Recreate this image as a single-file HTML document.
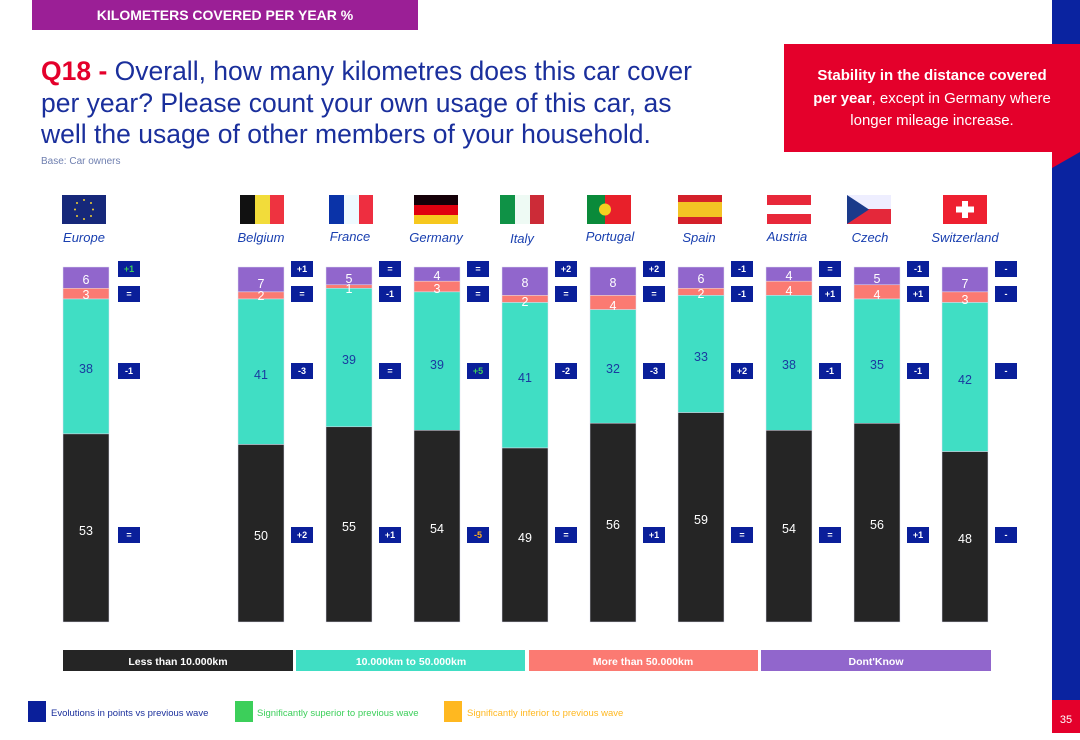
<!DOCTYPE html>
<html><head><meta charset="utf-8"><style>
body{margin:0;width:1080px;height:733px;position:relative;background:#fff;font-family:"Liberation Sans",sans-serif;overflow:hidden}
.a{position:absolute}
</style></head><body>
<div class="a" style="left:32px;top:0;width:386px;height:30px;background:#9b1f96;color:#fff;font-weight:bold;font-size:14px;line-height:30px;text-align:center">KILOMETERS COVERED PER YEAR %</div>
<div class="a" style="left:41px;top:56px;width:740px;font-size:26.5px;line-height:31.5px;color:#1a2f9c;white-space:nowrap"><b style="color:#e4002b">Q18 -</b> Overall, how many kilometres does this car cover<br>per year? Please count your own usage of this car, as<br>well the usage of other members of your household.</div>
<div class="a" style="left:41px;top:156px;font-size:10px;color:#7080b0">Base: Car owners</div>
<div class="a" style="left:1052px;top:0;width:28px;height:700px;background:#0a23a0"></div>
<div class="a" style="left:1052px;top:700px;width:28px;height:33px;background:#e4002b;color:#fff;font-size:11px;text-align:center;line-height:40px">35</div>
<div class="a" style="left:784px;top:44px;width:296px;height:108px;background:#e4002b"></div>
<div class="a" style="left:784px;top:65px;width:296px;text-align:center;color:#fff;font-size:15px;line-height:22.5px"><b>Stability in the distance covered<br>per year</b>, except in Germany where<br>longer mileage increase.</div>
<svg class="a" style="left:0;top:0" width="1080" height="733" font-family="Liberation Sans, sans-serif">
<polygon points="1080,152 1052,168 1052,152" fill="#e4002b"/>
<!-- flags -->
<rect x="62" y="195" width="44" height="29" fill="#16287a"/>
<g fill="#f2d030"><circle cx="84" cy="200" r="1"/><circle cx="84" cy="219" r="1"/><circle cx="75" cy="209.5" r="1"/><circle cx="93" cy="209.5" r="1"/><circle cx="77" cy="203" r="1"/><circle cx="91" cy="203" r="1"/><circle cx="77" cy="216" r="1"/><circle cx="91" cy="216" r="1"/></g>
<rect x="240" y="195" width="15" height="29" fill="#111"/><rect x="255" y="195" width="15" height="29" fill="#f2dc3a"/><rect x="270" y="195" width="14" height="29" fill="#ee3340"/>
<rect x="329" y="195" width="15" height="29" fill="#0a33a8"/><rect x="344" y="195" width="15" height="29" fill="#eefaff"/><rect x="359" y="195" width="14" height="29" fill="#ee2e40"/>
<rect x="414" y="195" width="44" height="10" fill="#150008"/><rect x="414" y="205" width="44" height="10" fill="#e0000f"/><rect x="414" y="215" width="44" height="9" fill="#f6c81e"/>
<rect x="500" y="195" width="15" height="29" fill="#0f9246"/><rect x="515" y="195" width="15" height="29" fill="#eefaf4"/><rect x="530" y="195" width="14" height="29" fill="#cc2b37"/>
<rect x="587" y="195" width="18" height="29" fill="#0a8a3a"/><rect x="605" y="195" width="26" height="29" fill="#e8202a"/><circle cx="605" cy="209.5" r="6" fill="#f5d020"/>
<rect x="678" y="195" width="44" height="29" fill="#d4202a"/><rect x="678" y="202" width="44" height="15" fill="#f3c324"/>
<rect x="767" y="195" width="44" height="10" fill="#e8283a"/><rect x="767" y="205" width="44" height="9" fill="#fff"/><rect x="767" y="214" width="44" height="10" fill="#e8283a"/>
<rect x="847" y="195" width="44" height="15" fill="#eef"/><rect x="847" y="209" width="44" height="15" fill="#e4283a"/><polygon points="847,195 869,209.5 847,224" fill="#1a3a8a"/>
<rect x="943" y="195" width="44" height="29" fill="#ee2030"/><rect x="962" y="201" width="6" height="17" fill="#fff"/><rect x="956" y="206.5" width="18" height="6" fill="#fff"/>
<g font-style="italic" font-size="13" fill="#1a40b0" text-anchor="middle">
<text x="84" y="242">Europe</text><text x="261" y="242">Belgium</text><text x="350" y="241">France</text><text x="436" y="242">Germany</text><text x="522" y="243">Italy</text><text x="610" y="241">Portugal</text><text x="699" y="242">Spain</text><text x="787" y="241">Austria</text><text x="870" y="242">Czech</text><text x="965" y="242">Switzerland</text>
</g>
<!-- bars -->
<g stroke="#e0e0f0" stroke-width="0.5">
<rect x="63" y="267" width="46" height="21.3" fill="#9166cc"/><rect x="63" y="288.3" width="46" height="10.7" fill="#fb7a72"/><rect x="63" y="299" width="46" height="134.9" fill="#40dec4"/><rect x="63" y="433.9" width="46" height="188.1" fill="#252525"/>
<rect x="238" y="267" width="46" height="24.9" fill="#9166cc"/><rect x="238" y="291.9" width="46" height="7.1" fill="#fb7a72"/><rect x="238" y="299" width="46" height="145.5" fill="#40dec4"/><rect x="238" y="444.5" width="46" height="177.5" fill="#252525"/>
<rect x="326" y="267" width="46" height="17.8" fill="#9166cc"/><rect x="326" y="284.8" width="46" height="3.5" fill="#fb7a72"/><rect x="326" y="288.3" width="46" height="138.5" fill="#40dec4"/><rect x="326" y="426.8" width="46" height="195.2" fill="#252525"/>
<rect x="414" y="267" width="46" height="14.2" fill="#9166cc"/><rect x="414" y="281.2" width="46" height="10.7" fill="#fb7a72"/><rect x="414" y="291.9" width="46" height="138.4" fill="#40dec4"/><rect x="414" y="430.3" width="46" height="191.7" fill="#252525"/>
<rect x="502" y="267" width="46" height="28.4" fill="#9166cc"/><rect x="502" y="295.4" width="46" height="7.1" fill="#fb7a72"/><rect x="502" y="302.5" width="46" height="145.5" fill="#40dec4"/><rect x="502" y="448" width="46" height="174" fill="#252525"/>
<rect x="590" y="267" width="46" height="28.4" fill="#9166cc"/><rect x="590" y="295.4" width="46" height="14.2" fill="#fb7a72"/><rect x="590" y="309.6" width="46" height="113.6" fill="#40dec4"/><rect x="590" y="423.2" width="46" height="198.8" fill="#252525"/>
<rect x="678" y="267" width="46" height="21.3" fill="#9166cc"/><rect x="678" y="288.3" width="46" height="7.1" fill="#fb7a72"/><rect x="678" y="295.4" width="46" height="117.2" fill="#40dec4"/><rect x="678" y="412.6" width="46" height="209.4" fill="#252525"/>
<rect x="766" y="267" width="46" height="14.2" fill="#9166cc"/><rect x="766" y="281.2" width="46" height="14.2" fill="#fb7a72"/><rect x="766" y="295.4" width="46" height="134.9" fill="#40dec4"/><rect x="766" y="430.3" width="46" height="191.7" fill="#252525"/>
<rect x="854" y="267" width="46" height="17.8" fill="#9166cc"/><rect x="854" y="284.8" width="46" height="14.2" fill="#fb7a72"/><rect x="854" y="299" width="46" height="124.3" fill="#40dec4"/><rect x="854" y="423.3" width="46" height="198.7" fill="#252525"/>
<rect x="942" y="267" width="46" height="24.9" fill="#9166cc"/><rect x="942" y="291.9" width="46" height="10.6" fill="#fb7a72"/><rect x="942" y="302.5" width="46" height="149.1" fill="#40dec4"/><rect x="942" y="451.6" width="46" height="170.4" fill="#252525"/>
</g>
<g font-size="12.5" text-anchor="middle" fill="#fff">
<text x="86" y="284">6</text><text x="86" y="299">3</text>
<text x="261" y="288">7</text><text x="261" y="300">2</text>
<text x="349" y="283">5</text><text x="349" y="293">1</text>
<text x="437" y="280">4</text><text x="437" y="293">3</text>
<text x="525" y="287">8</text><text x="525" y="306">2</text>
<text x="613" y="287">8</text><text x="613" y="310">4</text>
<text x="701" y="283">6</text><text x="701" y="298">2</text>
<text x="789" y="280">4</text><text x="789" y="295">4</text>
<text x="877" y="283">5</text><text x="877" y="299">4</text>
<text x="965" y="288">7</text><text x="965" y="304">3</text>
<text x="86" y="535">53</text><text x="261" y="540">50</text><text x="349" y="531">55</text><text x="437" y="533">54</text><text x="525" y="542">49</text><text x="613" y="529">56</text><text x="701" y="524">59</text><text x="789" y="533">54</text><text x="877" y="529">56</text><text x="965" y="543">48</text>
</g>
<g font-size="12.5" text-anchor="middle" fill="#1a3aa0">
<text x="86" y="373">38</text><text x="261" y="379">41</text><text x="349" y="364">39</text><text x="437" y="369">39</text><text x="525" y="382">41</text><text x="613" y="373">32</text><text x="701" y="361">33</text><text x="789" y="369">38</text><text x="877" y="369">35</text><text x="965" y="384">42</text>
</g>
<!-- badges -->
<g fill="#0a1f9a">
<rect x="118" y="261" width="22" height="16"/><rect x="118" y="286" width="22" height="16"/><rect x="118" y="363" width="22" height="16"/><rect x="118" y="527" width="22" height="16"/>
<rect x="291" y="261" width="22" height="16"/><rect x="291" y="286" width="22" height="16"/><rect x="291" y="363" width="22" height="16"/><rect x="291" y="527" width="22" height="16"/>
<rect x="379" y="261" width="22" height="16"/><rect x="379" y="286" width="22" height="16"/><rect x="379" y="363" width="22" height="16"/><rect x="379" y="527" width="22" height="16"/>
<rect x="467" y="261" width="22" height="16"/><rect x="467" y="286" width="22" height="16"/><rect x="467" y="363" width="22" height="16"/><rect x="467" y="527" width="22" height="16"/>
<rect x="555" y="261" width="22" height="16"/><rect x="555" y="286" width="22" height="16"/><rect x="555" y="363" width="22" height="16"/><rect x="555" y="527" width="22" height="16"/>
<rect x="643" y="261" width="22" height="16"/><rect x="643" y="286" width="22" height="16"/><rect x="643" y="363" width="22" height="16"/><rect x="643" y="527" width="22" height="16"/>
<rect x="731" y="261" width="22" height="16"/><rect x="731" y="286" width="22" height="16"/><rect x="731" y="363" width="22" height="16"/><rect x="731" y="527" width="22" height="16"/>
<rect x="819" y="261" width="22" height="16"/><rect x="819" y="286" width="22" height="16"/><rect x="819" y="363" width="22" height="16"/><rect x="819" y="527" width="22" height="16"/>
<rect x="907" y="261" width="22" height="16"/><rect x="907" y="286" width="22" height="16"/><rect x="907" y="363" width="22" height="16"/><rect x="907" y="527" width="22" height="16"/>
<rect x="995" y="261" width="22" height="16"/><rect x="995" y="286" width="22" height="16"/><rect x="995" y="363" width="22" height="16"/><rect x="995" y="527" width="22" height="16"/>
</g>
<g font-size="9" font-weight="bold" text-anchor="middle" fill="#fff">
<text x="129" y="272" fill="#3ccf5a">+1</text><text x="129" y="297">=</text><text x="129" y="374">-1</text><text x="129" y="538">=</text>
<text x="302" y="272">+1</text><text x="302" y="297">=</text><text x="302" y="374">-3</text><text x="302" y="538">+2</text>
<text x="390" y="272">=</text><text x="390" y="297">-1</text><text x="390" y="374">=</text><text x="390" y="538">+1</text>
<text x="478" y="272">=</text><text x="478" y="297">=</text><text x="478" y="374" fill="#3ccf5a">+5</text><text x="478" y="538" fill="#ffb020">-5</text>
<text x="566" y="272">+2</text><text x="566" y="297">=</text><text x="566" y="374">-2</text><text x="566" y="538">=</text>
<text x="654" y="272">+2</text><text x="654" y="297">=</text><text x="654" y="374">-3</text><text x="654" y="538">+1</text>
<text x="742" y="272">-1</text><text x="742" y="297">-1</text><text x="742" y="374">+2</text><text x="742" y="538">=</text>
<text x="830" y="272">=</text><text x="830" y="297">+1</text><text x="830" y="374">-1</text><text x="830" y="538">=</text>
<text x="918" y="272">-1</text><text x="918" y="297">+1</text><text x="918" y="374">-1</text><text x="918" y="538">+1</text>
<text x="1006" y="272">-</text><text x="1006" y="297">-</text><text x="1006" y="374">-</text><text x="1006" y="538">-</text>
</g>
<!-- legend -->
<rect x="63" y="650" width="230" height="21" fill="#252525"/><rect x="296" y="650" width="229" height="21" fill="#40dec4"/><rect x="529" y="650" width="229" height="21" fill="#fb7a72"/><rect x="761" y="650" width="230" height="21" fill="#9166cc"/>
<g font-size="10.5" font-weight="bold" fill="#fff" text-anchor="middle">
<text x="178" y="665">Less than 10.000km</text><text x="411" y="665">10.000km to 50.000km</text><text x="643" y="665">More than 50.000km</text><text x="876" y="665">Dont'Know</text>
</g>
<rect x="28" y="701" width="18" height="21" fill="#0a1f9a"/><rect x="235" y="701" width="18" height="21" fill="#3ccf5a"/><rect x="444" y="701" width="18" height="21" fill="#ffb820"/>
<g font-size="9.5"><text x="51" y="716" fill="#1a2f9c">Evolutions in points vs previous wave</text><text x="257" y="716" fill="#3ccf5a">Significantly superior to previous wave</text><text x="467" y="716" fill="#ffb820">Significantly inferior to previous wave</text></g>
</svg>
</body></html>
